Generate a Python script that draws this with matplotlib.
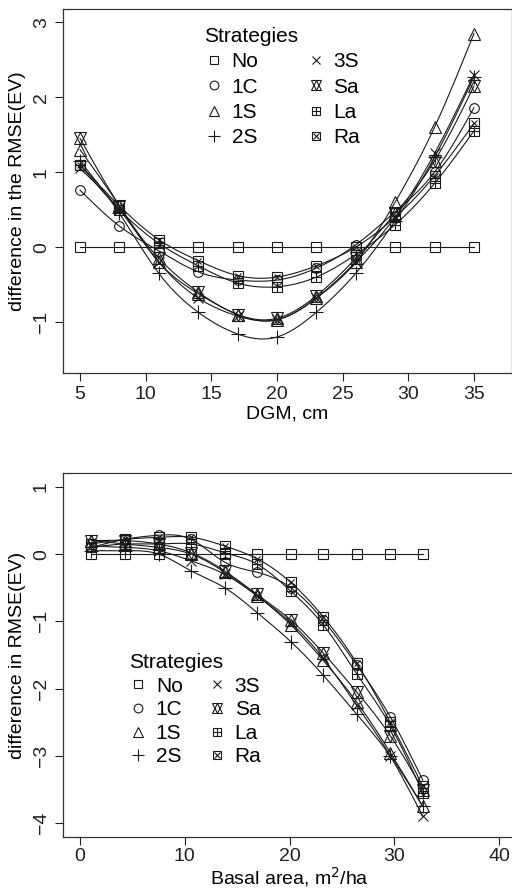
import numpy as np
import matplotlib
matplotlib.use('Agg')
import matplotlib.pyplot as plt
from matplotlib.legend_handler import HandlerTuple

plt.rcParams['font.family'] = ['Liberation Sans', 'DejaVu Sans']

# strategies, in legend order
strategies = ['No', '1C', '1S', '2S', '3S', 'Sa', 'La', 'Ra']

# top panel: diameter classes
dgm = [5, 8, 11, 14, 17, 20, 23, 26, 29, 32, 35]
top_vals = {
    'No': [0, 0, 0, 0, 0, 0, 0, 0, 0, 0, 0],
    '1C': [0.76, 0.28, -0.05, -0.33, -0.44, -0.44, -0.28, 0.03, 0.47, 1.0, 1.86],
    '1S': [1.30, 0.55, -0.20, -0.62, -0.90, -0.97, -0.68, -0.20, 0.60, 1.60, 2.85],
    '2S': [1.15, 0.45, -0.35, -0.87, -1.16, -1.20, -0.87, -0.35, 0.35, 1.20, 2.27],
    '3S': [1.05, 0.50, -0.20, -0.68, -0.92, -0.97, -0.68, -0.20, 0.40, 1.25, 2.30],
    'Sa': [1.45, 0.55, -0.15, -0.60, -0.90, -0.95, -0.65, -0.15, 0.45, 1.15, 2.15],
    'La': [1.10, 0.50, 0.05, -0.25, -0.48, -0.53, -0.40, -0.10, 0.30, 0.85, 1.55],
    'Ra': [1.10, 0.55, 0.10, -0.18, -0.38, -0.40, -0.25, 0.00, 0.40, 0.95, 1.65],
}

# bottom panel: basal area classes
basal = [1.1, 4.3, 7.5, 10.6, 13.8, 16.9, 20.1, 23.2, 26.4, 29.6, 32.7]
bot_vals = {
    'No': [0, 0, 0, 0, 0, 0, 0, 0, 0, 0, 0],
    '1C': [0.10, 0.22, 0.28, 0.22, -0.12, -0.27, -0.50, -0.98, -1.65, -2.42, -3.36],
    '1S': [0.20, 0.15, 0.10, 0.00, -0.27, -0.62, -1.05, -1.58, -2.20, -2.95, -3.75],
    '2S': [0.05, 0.05, 0.00, -0.25, -0.50, -0.87, -1.30, -1.80, -2.38, -3.00, -3.75],
    '3S': [0.12, 0.10, 0.05, -0.10, -0.30, -0.62, -1.02, -1.55, -2.25, -3.00, -3.90],
    'Sa': [0.20, 0.20, 0.15, 0.02, -0.25, -0.60, -0.98, -1.47, -2.05, -2.70, -3.50],
    'La': [0.10, 0.15, 0.15, 0.15, 0.02, -0.15, -0.55, -1.05, -1.78, -2.55, -3.55],
    'Ra': [0.15, 0.22, 0.25, 0.25, 0.12, -0.07, -0.42, -0.93, -1.62, -2.50, -3.45],
}

# marker layers for each strategy (R pch look-alikes)
markers = {
    'No': [('s', 7)],
    '1C': [('o', 7)],
    '1S': [('^', 8)],
    '2S': [('+', 10)],
    '3S': [('x', 7)],
    'Sa': [('^', 8), ('v', 8)],
    'La': [('s', 7), ('+', 7)],
    'Ra': [('s', 7), ('x', 5)],
}

ink = '#1a1a1a'


def natural_spline(x, y, num=200):
    # smooth line through the points (natural cubic spline)
    x = np.asarray(x, float)
    y = np.asarray(y, float)
    n = len(x)
    h = np.diff(x)
    A = np.zeros((n, n))
    b = np.zeros(n)
    A[0, 0] = A[-1, -1] = 1
    for i in range(1, n - 1):
        A[i, i - 1] = h[i - 1]
        A[i, i] = 2 * (h[i - 1] + h[i])
        A[i, i + 1] = h[i]
        b[i] = 3 * ((y[i + 1] - y[i]) / h[i] - (y[i] - y[i - 1]) / h[i - 1])
    c = np.linalg.solve(A, b)
    xs = np.linspace(x[0], x[-1], num)
    idx = np.clip(np.searchsorted(x, xs) - 1, 0, n - 2)
    dx = xs - x[idx]
    bb = (y[1:] - y[:-1]) / h - h * (2 * c[:-1] + c[1:]) / 3
    d = (c[1:] - c[:-1]) / (3 * h)
    return xs, y[idx] + bb[idx] * dx + c[idx] * dx ** 2 + d[idx] * dx ** 3


def draw_panel(ax, x, vals):
    handles = []
    for s in strategies:
        xs, ys = natural_spline(x, vals[s])
        ax.plot(xs, ys, color=ink, lw=0.8)
        layer = []
        for m, ms in markers[s]:
            ax.plot(x, vals[s], ls='none', marker=m, ms=ms, mfc='none',
                    mec=ink, mew=0.8)
            layer.append(plt.Line2D([], [], ls='none', marker=m, ms=ms * 0.9,
                                    mfc='none', mec=ink, mew=0.8))
        handles.append(tuple(layer))
    for sp in ax.spines.values():
        sp.set_linewidth(0.9)
        sp.set_color('#333333')
    ax.tick_params(direction='out', length=6, width=0.8, labelsize=14,
                   colors='#222222')
    return handles


def add_legend(ax, handles, anchor, colsp, rowsp):
    leg = ax.legend(handles, strategies, ncol=2, frameon=False,
                    title='Strategies', title_fontsize=15, fontsize=15,
                    loc='upper left', bbox_to_anchor=anchor,
                    handler_map={tuple: HandlerTuple(ndivide=1, pad=0)},
                    handlelength=0.9, handletextpad=0.4, columnspacing=colsp,
                    labelspacing=rowsp, borderaxespad=0, borderpad=0)
    leg._legend_box.align = 'left'


fig = plt.figure(figsize=(5.12, 8.88), dpi=100)

ax1 = fig.add_axes([0.123, 0.580, 0.877, 0.410])
h1 = draw_panel(ax1, dgm, top_vals)
ax1.set_xlim(3.7, 37.9)
ax1.set_ylim(-1.68, 3.18)
ax1.set_xticks([5, 10, 15, 20, 25, 30, 35])
ax1.set_yticks([-1, 0, 1, 2, 3])
for lab in ax1.get_yticklabels():
    lab.set_rotation(90)
    lab.set_va('center')
ax1.set_xlabel('DGM, cm', fontsize=14, labelpad=2)
ax1.set_ylabel('difference in the RMSE(EV)', fontsize=14, labelpad=5)
add_legend(ax1, h1, (0.315, 0.95), 2.3, 0.3)

ax2 = fig.add_axes([0.123, 0.0571, 0.885, 0.4106])
h2 = draw_panel(ax2, basal, bot_vals)
ax2.set_xlim(-1.62, 41.6)
ax2.set_ylim(-4.21, 1.21)
ax2.set_xticks([0, 10, 20, 30, 40])
ax2.set_yticks([-4, -3, -2, -1, 0, 1])
ax2.tick_params(axis='x', pad=2)
for lab in ax2.get_yticklabels():
    lab.set_rotation(90)
    lab.set_va('center')
ax2.set_xlabel('Basal area, m$^2$/ha', fontsize=14, labelpad=0)
ax2.set_ylabel('difference in RMSE(EV)', fontsize=14, labelpad=5)
add_legend(ax2, h2, (0.145, 0.505), 1.2, 0.22)

fig.savefig('out.png', dpi=100)
